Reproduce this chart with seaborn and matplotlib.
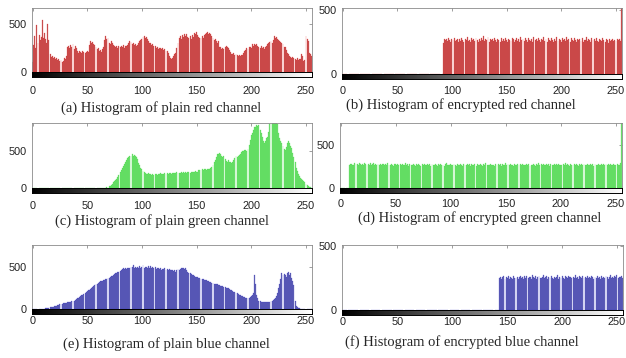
import numpy as np
import pandas as pd
import matplotlib
matplotlib.use("Agg")
import matplotlib.pyplot as plt
import seaborn as sns

# grey levels 0..255
levels = list(range(256))

plain_red = [
    100, 280, 370, 250, 480, 300, 380, 330, 360, 540, 350, 400, 340, 300, 500, 330,
    185, 150, 160, 140, 150, 130, 140, 120, 130, 110, 120, 100, 110, 140, 130, 160,
    255, 270, 250, 280, 260, 285, 240, 270, 250, 215, 200, 215, 210, 200, 215, 205,
    200, 210, 215, 205, 280, 320, 300, 310, 290, 280, 260, 240, 250, 220, 230, 210,
    240, 260, 330, 370, 340, 355, 300, 290, 320, 300, 280, 270, 260, 270, 250, 265,
    255, 270, 260, 280, 250, 265, 270, 280, 300, 320, 310, 290, 300, 280, 290, 270,
    280, 300, 320, 330, 340, 360, 370, 350, 360, 340, 320, 300, 300, 280, 290, 270,
    270, 250, 260, 240, 250, 250, 240, 250, 230, 240, 220, 215, 200, 170, 140, 130,
    140, 160, 185, 200, 250, 300, 354, 370, 340, 380, 360, 395, 370, 390, 360, 350,
    370, 340, 380, 360, 400, 390, 415, 380, 360, 355, 350, 370, 355, 380, 390, 400,
    410, 395, 400, 390, 370, 350, 330, 340, 320, 300, 320, 255, 260, 240, 250, 240,
    255, 270, 260, 250, 230, 210, 190, 185, 200, 180, 190, 175, 170, 180, 165, 175,
    180, 200, 220, 230, 250, 240, 255, 260, 250, 285, 270, 290, 280, 285, 270, 255,
    250, 265, 250, 260, 240, 255, 270, 290, 300, 310, 320, 300, 330, 370, 350, 360,
    340, 330, 320, 310, 300, 290, 260, 255, 230, 200, 190, 160, 150, 140, 155, 145,
    130, 125, 140, 120, 130, 135, 185, 160, 115, 120, 370, 340, 320, 200, 185, 170,
]

# encrypted red: empty below ~92, then flat
enc_red_tail = [
    245, 270, 262, 275, 258, 280, 266, 250, 272, 268, 284, 255, 262, 276, 248, 270,
    259, 281, 265, 252, 274, 263, 288, 257, 269, 246, 278, 262, 271, 255, 283, 266,
    250, 274, 261, 279, 268, 300, 256, 272, 264, 286, 249, 270, 262, 277, 258, 281,
    265, 253, 275, 268, 246, 279, 260, 271, 255, 284, 263, 250, 276, 267, 258, 282,
    270, 251, 266, 279, 259, 273, 248, 285, 262, 270, 256, 278, 264, 252, 281, 267,
    260, 274, 249, 287, 263, 271, 257, 280, 266, 253, 276, 262, 290, 258, 271, 249,
    279, 265, 256, 283, 268, 252, 275, 261, 286, 257, 270, 264, 247, 281, 266, 274,
    255, 288, 262, 270, 251, 278, 265, 259, 284, 268, 250, 276, 263, 272, 256, 281,
    247, 269, 262, 285, 258, 273, 266, 252, 279, 264, 270, 255, 283, 261, 248, 275,
    268, 258, 280, 263, 250, 272, 266, 245, 276, 260, 268, 271, 254, 266, 259, 277,
    262, 270, 258, 640,
]
enc_red = [0] * (256 - len(enc_red_tail)) + enc_red_tail

plain_green_tail = [
    8, 15, 22, 30, 40, 55, 77, 95, 110, 120, 150, 180, 215, 245, 270, 300,
    330, 360, 390, 410, 430, 435, 445, 460, 440, 455, 435, 420, 400, 345, 310, 280,
    255, 230, 215, 205, 195, 190, 200, 185, 195, 180, 190, 175, 185, 190, 180, 195,
    185, 200, 190, 195, 185, 200, 190, 205, 195, 200, 210, 195, 205, 200, 210, 200,
    215, 205, 210, 200, 215, 210, 220, 205, 215, 210, 225, 215, 210, 220, 215, 225,
    220, 230, 215, 225, 240, 250, 245, 255, 250, 260, 255, 250, 260, 255, 265, 270,
    290, 320, 350, 380, 420, 460, 470, 480, 460, 440, 430, 435, 400, 370, 360, 380,
    350, 360, 340, 350, 380, 410, 435, 430, 440, 450, 470, 490, 500, 510, 520, 525,
    510, 540, 595, 660, 720, 750, 800, 840, 830, 865, 850, 860, 800, 750, 700, 650,
    615, 640, 680, 705, 760, 880, 960, 1000, 980, 1020, 990, 940, 870, 750, 690, 640,
    615, 580, 540, 525, 560, 610, 640, 620, 580, 550, 480, 420, 350, 280, 230, 190,
    160, 140, 120, 105, 90, 80, 60, 45, 30, 15, 8, 3,
]
plain_green = [0] * (256 - len(plain_green_tail)) + plain_green_tail

enc_green_tail = [
    262, 275, 281, 270, 266, 284, 272, 279, 268, 286, 274, 262, 280, 271, 288, 276,
    265, 279, 270, 283, 268, 274, 290, 266, 277, 271, 282, 263, 275, 269, 281, 272,
    260, 276, 268, 283, 271, 264, 279, 270, 258, 274, 281, 266, 272, 262, 278, 269,
    275, 261, 270, 284, 266, 273, 259, 277, 268, 262, 280, 271, 256, 274, 265, 279,
    268, 257, 273, 264, 280, 269, 260, 276, 266, 272, 258, 281, 267, 263, 275, 270,
    259, 272, 266, 278, 262, 270, 256, 274, 283, 265, 271, 260, 277, 268, 262, 273,
    266, 258, 275, 269, 263, 280, 271, 257, 274, 266, 261, 278, 268, 272, 259, 276,
    270, 264, 281, 258, 273, 267, 262, 276, 269, 255, 274, 266, 290, 263, 271, 268,
    277, 262, 270, 266, 259, 275, 268, 281, 263, 272, 258, 276, 267, 270, 284, 261,
    273, 266, 279, 262, 270, 258, 276, 268, 263, 282, 269, 274, 260, 277, 266, 271,
    262, 278, 268, 273, 257, 271, 265, 280, 270, 259, 274, 267, 286, 263, 272, 266,
    275, 261, 270, 279, 264, 272, 258, 276, 269, 263, 281, 268, 274, 260, 277, 265,
    271, 263, 278, 266, 284, 261, 273, 268, 259, 276, 270, 265, 280, 262, 274, 269,
    258, 275, 267, 272, 263, 279, 268, 261, 277, 270, 264, 282, 266, 273, 259, 276,
    268, 262, 275, 270, 265, 281, 263, 272, 268, 277, 260, 274, 266, 279, 271, 264,
    276, 268, 262, 280, 271, 266, 283, 920,
]
enc_green = [0] * (256 - len(enc_green_tail)) + enc_green_tail

plain_blue = [
    0, 0, 0, 0, 0, 0, 0, 0, 0, 0, 2, 4, 6, 8, 12, 15,
    18, 20, 24, 27, 30, 34, 38, 45, 52, 54, 58, 62, 66, 70, 72, 75,
    78, 82, 85, 88, 90, 95, 100, 110, 118, 125, 135, 142, 151, 160, 170, 180,
    190, 200, 209, 220, 230, 240, 250, 260, 267, 280, 290, 300, 310, 315, 325, 330,
    335, 340, 345, 350, 356, 362, 370, 380, 390, 395, 402, 410, 420, 425, 435, 441,
    450, 460, 470, 480, 475, 485, 470, 490, 480, 485, 500, 495, 518, 490, 500, 485,
    495, 480, 505, 490, 500, 520, 485, 495, 500, 480, 505, 490, 510, 480, 495, 485,
    500, 475, 490, 480, 470, 485, 460, 475, 470, 480, 465, 470, 460, 475, 455, 465,
    460, 450, 455, 441, 460, 470, 465, 475, 480, 485, 487, 470, 480, 460, 440, 430,
    421, 410, 405, 402, 395, 383, 380, 375, 370, 365, 360, 355, 352, 348, 345, 340,
    335, 325, 320, 315, 310, 305, 300, 295, 292, 290, 285, 280, 275, 270, 267, 260,
    255, 250, 247, 245, 240, 230, 220, 210, 200, 195, 190, 185, 180, 170, 160, 151,
    150, 145, 140, 135, 131, 130, 132, 140, 155, 170, 190, 402, 300, 170, 130, 100,
    90, 85, 82, 81, 80, 82, 83, 85, 84, 86, 90, 95, 110, 120, 131, 150,
    190, 247, 300, 360, 421, 400, 410, 402, 380, 420, 441, 400, 420, 363, 330, 286,
    93, 40, 20, 15, 8, 4, 2, 0, 0, 0, 0, 0, 0, 0, 0, 0,
]

enc_blue_tail = [
    248, 262, 240, 256, 270, 244, 258, 250, 266, 242, 260, 252, 247, 264, 255, 249,
    261, 245, 257, 268, 251, 259, 243, 265, 254, 270, 248, 260, 256, 244, 272, 258,
    250, 263, 246, 258, 267, 253, 248, 261, 275, 249, 257, 264, 246, 259, 252, 268,
    255, 243, 262, 250, 258, 271, 247, 260, 254, 266, 251, 245, 263, 257, 249, 269,
    256, 262, 248, 259, 253, 274, 250, 261, 246, 264, 257, 251, 267, 248, 260, 255,
    263, 249, 258, 252, 270, 256, 244, 262, 255, 268, 250, 259, 247, 265, 253, 261,
    250, 266, 256, 245, 262, 272, 251, 259, 248, 264, 257, 276, 253, 262, 258, 268, 250,
]
enc_blue = [0] * (256 - len(enc_blue_tail)) + enc_blue_tail

captions = [
    "(a) Histogram of plain red channel",
    "(b) Histogram of encrypted red channel",
    "(c) Histogram of plain green channel",
    "(d) Histogram of encrypted green channel",
    "(e) Histogram of plain blue channel",
    "(f) Histogram of encrypted blue channel",
]

sns.set_style("white")
plt.rcParams["font.family"] = ["Liberation Sans", "DejaVu Sans"]

W, H = 626, 358
fig = plt.figure(figsize=(W / 100, H / 100), dpi=100)


def px_axes(left, top, right, bottom):
    return fig.add_axes([left / W, 1 - bottom / H, (right - left) / W, (bottom - top) / H])


# (data, fill, edge, ymax, box left/top/right/bottom, tick pad, caption x, caption y)
panels = [
    (plain_red, "#bf5a5a", "#e82020", 660, (32, 8, 312, 72), 6.5, 161, 108),
    (enc_red, "#bf5a5a", "#e82020", 515, (342, 8, 622, 74), 5.0, 461, 105),
    (plain_green, "#7ade7a", "#30dd30", 890, (32, 123, 312, 188), 6.0, 162, 221),
    (enc_green, "#7ade7a", "#30dd30", 750, (340, 123, 622, 188), 4.0, 480, 218),
    (plain_blue, "#6a6ab2", "#2a2ac0", 756, (32, 245, 312, 309), 1.5, 166, 344),
    (enc_blue, "#6a6ab2", "#2a2ac0", 510, (342, 245, 623, 310), 1.5, 462, 342),
]

for (vals, fill, edge, ymax, box, pad, cx, cy), cap in zip(panels, captions):
    left, top, right, bottom = box
    ax = px_axes(left, top, right, bottom)
    df = pd.DataFrame({"level": levels, "count": vals})
    sns.histplot(data=df, x="level", weights="count", discrete=True, shrink=0.85,
                 color=fill, edgecolor=edge, linewidth=0.15, alpha=1.0, ax=ax)
    ax.set_xlim(-0.5, 255.5)
    ax.set_ylim(0, ymax)
    ax.set_xlabel("")
    ax.set_ylabel("")
    ax.set_yticks([0, 500])
    ax.set_xticks(range(0, 251, 50))
    ax.tick_params(axis="x", direction="in", top=True, bottom=False,
                   labelbottom=False, length=2.5, width=0.5, color="#777777")
    ax.tick_params(axis="y", direction="in", right=True, length=2.5, width=0.5,
                   color="#777777", labelsize=7.8, pad=4, labelcolor="#222222")
    for s in ax.spines.values():
        s.set_color("#8a8a8a")
        s.set_linewidth(0.6)

    # grey-level ramp under the histogram
    gax = px_axes(left, bottom, right, bottom + 5)
    gax.imshow(np.array(levels)[None, :], cmap="gray", aspect="auto",
               extent=[-0.5, 255.5, 0, 1], vmin=0, vmax=255)
    gax.set_xlim(-0.5, 255.5)
    gax.set_yticks([])
    gax.set_xticks(range(0, 251, 50))
    gax.tick_params(axis="x", length=0, labelsize=7.8, pad=pad, labelcolor="#222222")
    for s in gax.spines.values():
        s.set_color("black")
        s.set_linewidth(0.7)

    fig.text(cx / W, 1 - cy / H, cap, ha="center", va="center",
             fontsize=10.5, family=["Liberation Serif", "DejaVu Serif"])

fig.savefig("out.png", dpi=100)
